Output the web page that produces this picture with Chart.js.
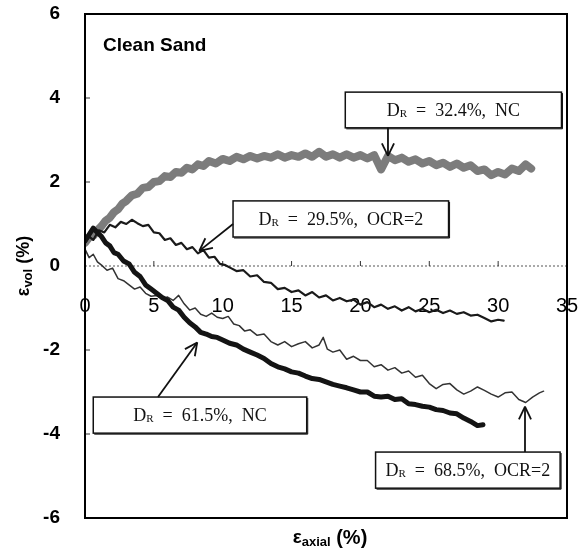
<!DOCTYPE html>
<html>
<head>
<meta charset="utf-8">
<script src="https://cdn.jsdelivr.net/npm/chart.js@4.4.0/dist/chart.umd.min.js"></script>
<style>
  html, body { margin: 0; padding: 0; background: #fff; }
</style>
</head>
<body>
<canvas id="chart" width="588" height="554"></canvas>
<script>
// axis ticks
const xTicks = [0, 5, 10, 15, 20, 25, 30, 35];
const yTicks = [-6, -4, -2, 0, 2, 4, 6];

// D_R = 32.4%, NC (grey band)
const axial324nc = [0, 0.3, 0.6, 0.9, 1.2, 1.5, 1.8, 2.1, 2.4, 2.7, 3.0, 3.4, 3.8, 4.2, 4.6, 5.0, 5.4, 5.8, 6.2, 6.6,
  7.0, 7.4, 7.8, 8.2, 8.6, 9.0, 9.5, 10.0, 10.5, 11.0, 11.5, 12.0, 12.5, 13.0, 13.5, 14.0, 14.5, 15.0, 15.5, 16.0,
  16.5, 17.0, 17.5, 18.0, 18.5, 19.0, 19.5, 20.0, 20.5, 21.0, 21.5, 22.0, 22.5, 23.0, 23.5, 24.0, 24.5, 25.0, 25.5,
  26.0, 26.5, 27.0, 27.5, 28.0, 28.5, 29.0, 29.5, 30.0, 30.5, 31.0, 31.5, 32.0, 32.4];
const vol324nc = [0.55, 0.68, 0.72, 0.85, 0.95, 1.08, 1.15, 1.28, 1.35, 1.48, 1.55, 1.68, 1.72, 1.86, 1.88, 2.00, 2.02, 2.14, 2.12, 2.24,
  2.22, 2.34, 2.30, 2.42, 2.38, 2.50, 2.44, 2.55, 2.50, 2.60, 2.54, 2.62, 2.56, 2.62, 2.58, 2.66, 2.58, 2.64, 2.60, 2.68,
  2.60, 2.72, 2.60, 2.66, 2.58, 2.66, 2.58, 2.64, 2.56, 2.64, 2.30, 2.62, 2.52, 2.58, 2.48, 2.54, 2.44, 2.50, 2.40,
  2.46, 2.36, 2.44, 2.34, 2.40, 2.26, 2.30, 2.16, 2.24, 2.18, 2.32, 2.26, 2.42, 2.32];

// D_R = 29.5%, OCR=2
const axial295ocr = [0, 0.3, 0.6, 1.0, 1.4, 1.8, 2.2, 2.6, 3.0, 3.4, 3.8, 4.2, 4.6, 5.0, 5.4, 5.8, 6.2, 6.6, 7.0, 7.4,
  7.8, 8.2, 8.6, 9.0, 9.4, 9.8, 10.2, 10.6, 11.0, 11.5, 12.0, 12.5, 13.0, 13.5, 14.0, 14.5, 15.0, 15.5, 16.0, 16.5,
  17.0, 17.5, 18.0, 18.5, 19.0, 19.5, 20.0, 20.5, 21.0, 21.5, 22.0, 22.5, 23.0, 23.5, 24.0, 24.5, 25.0, 25.5, 26.0,
  26.5, 27.0, 27.5, 28.0, 28.5, 29.0, 29.5, 30.0, 30.4];
const vol295ocr = [0.55, 0.70, 0.62, 0.85, 0.80, 0.98, 0.92, 1.05, 1.00, 1.10, 1.02, 0.95, 0.98, 0.80, 0.78, 0.62, 0.66, 0.50, 0.55, 0.40,
  0.45, 0.30, 0.38, 0.20, 0.22, 0.05, 0.02, -0.05, -0.12, -0.10, -0.25, -0.22, -0.38, -0.40, -0.55, -0.52, -0.62, -0.58, -0.70, -0.62,
  -0.75, -0.70, -0.82, -0.76, -0.84, -0.80, -0.92, -0.86, -0.98, -0.92, -1.02, -0.96, -1.06, -0.98, -1.08, -1.02, -1.10, -1.04, -1.12,
  -1.06, -1.14, -1.10, -1.18, -1.16, -1.24, -1.32, -1.28, -1.30];

// D_R = 61.5%, NC (thick black)
const axial615nc = [0, 0.3, 0.6, 0.9, 1.2, 1.5, 1.8, 2.1, 2.4, 2.8, 3.2, 3.6, 4.0, 4.4, 4.8, 5.2, 5.6, 6.0, 6.4, 6.8,
  7.2, 7.6, 8.0, 8.4, 8.8, 9.2, 9.6, 10.0, 10.5, 11.0, 11.5, 12.0, 12.5, 13.0, 13.5, 14.0, 14.5, 15.0, 15.5, 16.0,
  16.5, 17.0, 17.5, 18.0, 18.5, 19.0, 19.5, 20.0, 20.5, 21.0, 21.5, 22.0, 22.5, 23.0, 23.5, 24.0, 24.5, 25.0, 25.5,
  26.0, 26.5, 27.0, 27.5, 28.0, 28.5, 28.9];
const vol615nc = [0.60, 0.75, 0.90, 0.80, 0.70, 0.55, 0.48, 0.32, 0.28, 0.12, 0.05, -0.15, -0.25, -0.45, -0.55, -0.65, -0.75, -0.82, -0.98, -1.05,
  -1.22, -1.35, -1.45, -1.58, -1.62, -1.68, -1.70, -1.76, -1.84, -1.88, -1.98, -2.05, -2.12, -2.20, -2.32, -2.40, -2.45, -2.52, -2.55, -2.62,
  -2.68, -2.70, -2.76, -2.82, -2.86, -2.90, -2.95, -3.00, -3.00, -3.10, -3.12, -3.10, -3.18, -3.16, -3.28, -3.30, -3.34, -3.36, -3.42,
  -3.44, -3.50, -3.52, -3.62, -3.70, -3.80, -3.78];

// D_R = 68.5%, OCR=2 (thin)
const axial685ocr = [0, 0.3, 0.6, 0.9, 1.2, 1.6, 2.0, 2.4, 2.8, 3.2, 3.6, 4.0, 4.4, 4.8, 5.2, 5.6, 6.0, 6.4, 6.8, 7.2,
  7.6, 8.0, 8.4, 8.8, 9.2, 9.6, 10.0, 10.4, 10.8, 11.2, 11.6, 12.0, 12.5, 13.0, 13.5, 14.0, 14.5, 15.0, 15.5, 16.0,
  16.5, 17.0, 17.3, 17.6, 18.0, 18.5, 19.0, 19.5, 20.0, 20.5, 21.0, 21.5, 22.0, 22.5, 23.0, 23.5, 24.0, 24.5, 25.0,
  25.5, 26.0, 26.5, 27.0, 27.5, 28.0, 28.5, 29.0, 29.5, 30.0, 30.5, 31.0, 31.5, 32.0, 32.5, 33.0, 33.3];
const vol685ocr = [0.40, 0.20, 0.28, 0.10, 0.02, -0.10, -0.05, -0.30, -0.35, -0.45, -0.55, -0.50, -0.65, -0.72, -0.70, -0.78, -0.74, -0.82, -0.70, -0.90,
  -1.05, -1.00, -1.15, -1.20, -1.12, -1.22, -1.25, -1.20, -1.38, -1.42, -1.55, -1.52, -1.65, -1.62, -1.80, -1.88, -1.80, -1.92, -1.85, -1.80,
  -1.95, -1.88, -1.70, -1.98, -2.05, -2.00, -2.22, -2.15, -2.25, -2.25, -2.40, -2.35, -2.48, -2.42, -2.55, -2.50, -2.65, -2.60, -2.80,
  -2.92, -2.82, -2.80, -2.95, -3.05, -2.98, -2.88, -2.96, -3.05, -3.12, -3.02, -3.00, -3.18, -3.25, -3.12, -3.02, -2.98];

// callout boxes: box corners and arrow in data units
const notes = [
  { pct: '32.4%,  NC',    box: [18.9, 34.6, 4.14, 3.29], arrow: [22.0, 3.29, 22.0, 2.62] },
  { pct: '29.5%,  OCR=2', box: [10.75, 26.4, 1.55, 0.69], arrow: [10.75, 1.0, 8.3, 0.36] },
  { pct: '61.5%,  NC',    box: [0.6, 16.1, -3.12, -3.98], arrow: [5.3, -3.12, 8.15, -1.82] },
  { pct: '68.5%,  OCR=2', box: [21.1, 34.5, -4.43, -5.29], arrow: [31.95, -4.43, 31.95, -3.35] }
];

function pts(xs, ys) {
  return xs.map((v, i) => ({ x: v, y: ys[i] }));
}

function richText(ctx, segs, cx, cy, family, weight) {
  let w = 0;
  segs.forEach(s => {
    ctx.font = weight + ' ' + s.size + 'px ' + family;
    s.w = ctx.measureText(s.t).width;
    w += s.w;
  });
  let x = cx - w / 2;
  ctx.textAlign = 'left';
  ctx.textBaseline = 'middle';
  segs.forEach(s => {
    ctx.font = weight + ' ' + s.size + 'px ' + family;
    ctx.fillText(s.t, x, cy + (s.dy || 0));
    x += s.w;
  });
}

function seg(ctx, x1, y1, x2, y2) {
  ctx.beginPath();
  ctx.moveTo(x1, y1);
  ctx.lineTo(x2, y2);
  ctx.stroke();
}

// no automatic label overflow padding, the frame is placed by layout.padding
function noPad(s) {
  s.paddingTop = 0; s.paddingBottom = 0; s.paddingLeft = 0; s.paddingRight = 0;
}

const decor = {
  id: 'decor',
  beforeDatasetsDraw(chart) {
    const { ctx, chartArea: a, scales: { x, y } } = chart;
    const y0 = y.getPixelForValue(0);
    ctx.save();
    // dotted zero line
    ctx.strokeStyle = '#555';
    ctx.lineWidth = 1;
    ctx.setLineDash([2, 2]);
    seg(ctx, a.left, y0, a.right, y0);
    ctx.setLineDash([]);
    ctx.strokeStyle = '#333';
    yTicks.forEach(v => {
      if (v > -6 && v < 6 && v !== 0) {
        const p = y.getPixelForValue(v);
        seg(ctx, a.left, p, a.left + 5, p);
      }
    });
    xTicks.forEach(v => {
      if (v > 0 && v < 35) {
        const p = x.getPixelForValue(v);
        seg(ctx, p, y0, p, y0 - 5);
      }
    });
    ctx.restore();
  },
  afterDatasetsDraw(chart) {
    const { ctx, chartArea: a, scales: { x, y } } = chart;
    ctx.save();
    // frame
    ctx.strokeStyle = '#000';
    ctx.lineWidth = 2;
    ctx.strokeRect(a.left, a.top, a.right - a.left, a.bottom - a.top);

    // callouts
    notes.forEach(n => {
      const l = x.getPixelForValue(n.box[0]), r = x.getPixelForValue(n.box[1]);
      const t = y.getPixelForValue(n.box[2]), b = y.getPixelForValue(n.box[3]);
      ctx.fillStyle = '#fff';
      ctx.fillRect(l, t, r - l, b - t);
      ctx.strokeStyle = '#111';
      ctx.lineWidth = 1.5;
      ctx.strokeRect(l, t, r - l, b - t);
      ctx.lineWidth = 1;
      seg(ctx, l + 1, b + 1, r + 1, b + 1);
      seg(ctx, r + 1, t + 1, r + 1, b + 1);
      ctx.fillStyle = '#111';
      richText(ctx, [
        { t: 'D', size: 18 },
        { t: 'R', size: 11, dy: 3 },
        { t: '  =  ' + n.pct, size: 18 }
      ], (l + r) / 2, (t + b) / 2 + 1, '"Liberation Serif", "Times New Roman", serif', 'normal');

      const x1 = x.getPixelForValue(n.arrow[0]), y1 = y.getPixelForValue(n.arrow[1]);
      const x2 = x.getPixelForValue(n.arrow[2]), y2 = y.getPixelForValue(n.arrow[3]);
      ctx.strokeStyle = '#111';
      ctx.lineWidth = 1.8;
      seg(ctx, x1, y1, x2, y2);
      const ang = Math.atan2(y2 - y1, x2 - x1);
      [0.45, -0.45].forEach(d => {
        seg(ctx, x2, y2, x2 - 14 * Math.cos(ang + d), y2 - 14 * Math.sin(ang + d));
      });
    });

    // panel label
    ctx.fillStyle = '#000';
    ctx.font = 'bold 19px "Liberation Sans", Arial, sans-serif';
    ctx.textAlign = 'left';
    ctx.textBaseline = 'middle';
    ctx.fillText('Clean Sand', 103, 46);

    // axis titles
    const sans = '"Liberation Sans", Arial, sans-serif';
    richText(ctx, [
      { t: 'ε', size: 19 },
      { t: 'axial', size: 13, dy: 4 },
      { t: ' (%)', size: 20 }
    ], 330, 538, sans, 'bold');

    ctx.translate(24, 266);
    ctx.rotate(-Math.PI / 2);
    richText(ctx, [
      { t: 'ε', size: 18 },
      { t: 'vol', size: 13, dy: 4 },
      { t: ' (%)', size: 18 }
    ], 0, 0, sans, 'bold');
    ctx.restore();
  }
};

new Chart(document.getElementById('chart').getContext('2d'), {
  type: 'scatter',
  data: {
    datasets: [
      { label: 'DR = 61.5%, NC', data: pts(axial615nc, vol615nc), borderColor: '#141414', borderWidth: 5 },
      { label: 'DR = 29.5%, OCR=2', data: pts(axial295ocr, vol295ocr), borderColor: '#1a1a1a', borderWidth: 2.2 },
      { label: 'DR = 68.5%, OCR=2', data: pts(axial685ocr, vol685ocr), borderColor: '#333', borderWidth: 1.5 },
      { label: 'DR = 32.4%, NC', data: pts(axial324nc, vol324nc), borderColor: '#7c7c7c', borderWidth: 8 }
    ].map(d => Object.assign(d, {
      showLine: true, pointRadius: 0, pointHoverRadius: 0, tension: 0,
      borderJoinStyle: 'round', borderCapStyle: 'round', fill: false
    }))
  },
  options: {
    responsive: false,
    animation: false,
    layout: { padding: { top: 14, right: 21, left: 0, bottom: 0 } },
    plugins: { legend: { display: false }, tooltip: { enabled: false } },
    scales: {
      x: {
        type: 'linear', min: 0, max: 35,
        ticks: { display: false },
        grid: { display: false },
        border: { display: false },
        afterFit: s => { s.height = 36; noPad(s); }
      },
      x2: {
        type: 'linear', position: { y: 0 }, min: 0, max: 35,
        afterBuildTicks: s => { s.ticks = xTicks.map(v => ({ value: v })); },
        afterFit: noPad,
        ticks: {
          padding: 20, color: '#000',
          font: { family: '"Liberation Sans", Arial, sans-serif', size: 20 }
        },
        grid: { display: false },
        border: { display: false }
      },
      y: {
        type: 'linear', min: -6, max: 6,
        afterBuildTicks: s => { s.ticks = yTicks.map(v => ({ value: v })); },
        ticks: {
          padding: 17, color: '#000',
          font: { family: '"Liberation Sans", Arial, sans-serif', size: 19, weight: 'bold' }
        },
        grid: { display: false },
        border: { display: false },
        afterFit: s => { s.width = 85; noPad(s); }
      }
    }
  },
  plugins: [decor]
});
</script>
</body>
</html>
